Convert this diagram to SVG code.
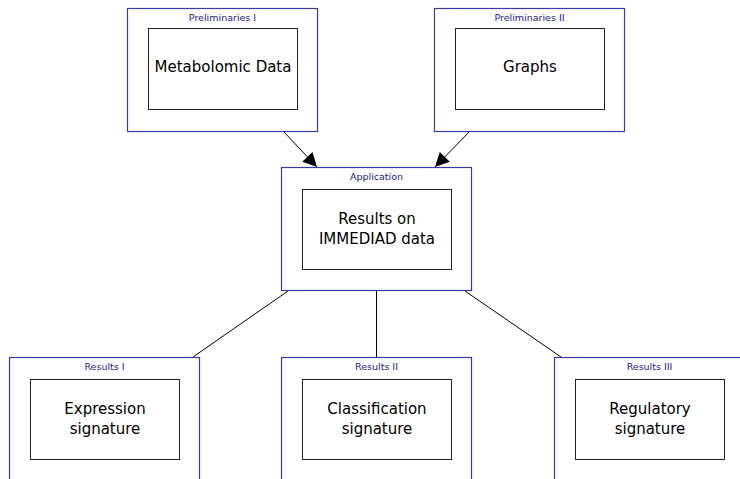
<svg xmlns="http://www.w3.org/2000/svg" width="740" height="479" viewBox="0 0 740 479">
  <style>
    .outer { fill: #ffffff; stroke: #3a3aa8; stroke-width: 1.2; }
    .inner { fill: #ffffff; stroke: #222222; stroke-width: 1; }
    .title { font-family: "DejaVu Sans", Verdana, sans-serif; font-size: 9.5px; fill: #1a1a8c; text-anchor: middle; }
    .label { font-family: "DejaVu Sans", Verdana, sans-serif; font-size: 15px; fill: #000000; text-anchor: middle; }
    .edge { stroke: #000000; stroke-width: 1; fill: none; }
  </style>
  <defs>
    <marker id="arrow" viewBox="0 0 10 10" refX="10" refY="5" markerWidth="15" markerHeight="14" markerUnits="userSpaceOnUse" orient="auto">
      <path d="M0,0 L10,5 L0,10 z" fill="#000000"/>
    </marker>
  </defs>
  <rect width="740" height="479" fill="#ffffff"/>

  <g id="connectors">
    <line class="edge" x1="283" y1="131" x2="317" y2="167" marker-end="url(#arrow)"/>
    <line class="edge" x1="470" y1="131" x2="435" y2="167" marker-end="url(#arrow)"/>
    <line class="edge" x1="288" y1="291" x2="193" y2="357"/>
    <line class="edge" x1="376.5" y1="291" x2="376.5" y2="357"/>
    <line class="edge" x1="465" y1="291" x2="561" y2="357"/>
  </g>

  <g id="prelim1">
    <rect class="outer" x="127.5" y="8.5" width="190" height="123"/>
    <text class="title" x="222.5" y="21">Preliminaries I</text>
    <rect class="inner" x="148.5" y="28.5" width="149" height="81"/>
    <text class="label" x="223" y="72">Metabolomic Data</text>
  </g>

  <g id="prelim2">
    <rect class="outer" x="434.5" y="8.5" width="190" height="123"/>
    <text class="title" x="529.5" y="21">Preliminaries II</text>
    <rect class="inner" x="455.5" y="28.5" width="149" height="81"/>
    <text class="label" x="530" y="72">Graphs</text>
  </g>

  <g id="application">
    <rect class="outer" x="281.5" y="167.5" width="190" height="123"/>
    <text class="title" x="376.5" y="180">Application</text>
    <rect class="inner" x="302.5" y="189.5" width="149" height="80"/>
    <text class="label" x="377" y="224">Results on</text>
    <text class="label" x="377" y="244">IMMEDIAD data</text>
  </g>

  <g id="results1">
    <rect class="outer" x="9.5" y="357.5" width="190" height="130"/>
    <text class="title" x="104.5" y="370">Results I</text>
    <rect class="inner" x="30.5" y="379.5" width="149" height="80"/>
    <text class="label" x="105" y="414">Expression</text>
    <text class="label" x="105" y="434">signature</text>
  </g>

  <g id="results2">
    <rect class="outer" x="281.5" y="357.5" width="190" height="130"/>
    <text class="title" x="376.5" y="370">Results II</text>
    <rect class="inner" x="302.5" y="379.5" width="149" height="80"/>
    <text class="label" x="377" y="414">Classification</text>
    <text class="label" x="377" y="434">signature</text>
  </g>

  <g id="results3">
    <rect class="outer" x="554.5" y="357.5" width="190" height="130"/>
    <text class="title" x="649.5" y="370">Results III</text>
    <rect class="inner" x="575.5" y="379.5" width="149" height="80"/>
    <text class="label" x="650" y="414">Regulatory</text>
    <text class="label" x="650" y="434">signature</text>
  </g>
</svg>
